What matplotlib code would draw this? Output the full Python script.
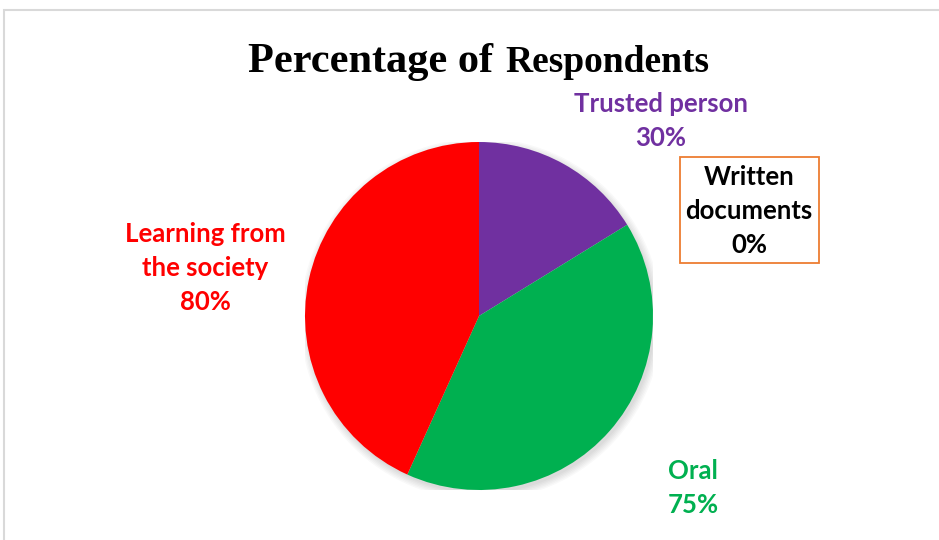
import matplotlib.pyplot as plt
from matplotlib.patches import Rectangle, Circle

# data
labels = ["Trusted person", "Written\ndocuments", "Oral", "Learning from\nthe society"]
values = [30, 0, 75, 80]
colors = ["#7030A0", "#FFFFFF", "#00B050", "#FF0000"]
text_colors = ["#7030A0", "#000000", "#00B050", "#FF0000"]
# label anchor positions relative to pie centre (radius units)
label_pos = [(1.046, 1.12), (1.552, 0.603), (1.23, -0.989), (-1.575, 0.276)]

W, H = 939, 540
fig = plt.figure(figsize=(W / 100, H / 100), dpi=100)

# light frame of the chart area
fig.patches.append(Rectangle((4 / W, -0.1), 1.2, 1 - 10 / H + 0.1, transform=fig.transFigure,
                             fill=False, ec="#d9d9d9", lw=1.5))

cx, cy, r = 479, 316, 174
ax = fig.add_axes([(cx - r) / W, (H - cy - r) / H, 2 * r / W, 2 * r / H])
ax.set_xlim(-1, 1)
ax.set_ylim(-1, 1)
ax.set_aspect("equal")
ax.axis("off")

# soft shadow
for i in range(6):
    ax.add_patch(Circle((0.012, -0.018), 1.0 + 0.008 * i, color="black", alpha=0.025, lw=0, zorder=0))

ax.pie(values, colors=colors, startangle=90, counterclock=False, radius=1,
       wedgeprops=dict(lw=0), frame=False)
ax.set_xlim(-1, 1)
ax.set_ylim(-1, 1)

for lab, v, c, (x, y) in zip(labels, values, text_colors, label_pos):
    txt = f"{lab}\n{v}%"
    ax.text(x, y, txt, color=c, ha="center", va="center", fontsize=18.5, fontweight="bold",
            family="Lato", linespacing=1.5, clip_on=False)
    if v == 0:
        ax.add_patch(Rectangle((1.155, 0.305), 0.799, 0.609, fill=False, ec="#ED7D31",
                               lw=1.3, clip_on=False))

# title in two sizes
fig.text(248 / W, 1 - 72 / H, "Percentage of", family="Liberation Serif", fontweight="bold",
         fontsize=30.5, ha="left", va="baseline")
fig.text(505 / W, 1 - 72 / H, "Respondents", family="Liberation Serif", fontweight="bold",
         fontsize=27, ha="left", va="baseline")

fig.savefig("out.png", dpi=100)
